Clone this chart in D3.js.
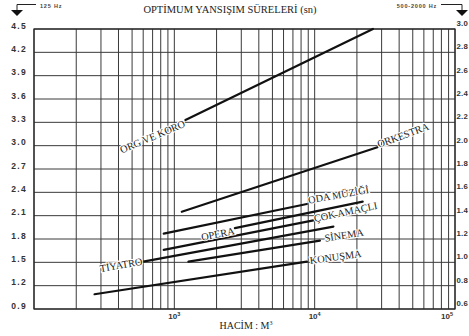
<!DOCTYPE html>
<html>
<head>
<meta charset="utf-8">
<script src="https://cdn.jsdelivr.net/npm/d3@7"></script>
<style>
  body { margin: 0; background: #fff; }
  svg { display: block; }
</style>
</head>
<body>
<svg id="chart" width="469" height="336"></svg>
<script>
// Optimum reverberation time by room type and volume
const roomTypes  = ["ORG VE KORO", "ORKESTRA", "ODA MÜZİĞİ", "OPERA", "ÇOK AMAÇLI", "TİYATRO", "SİNEMA", "KONUŞMA"];
const volumeFrom = [1200, 1130, 840, 2700, 840, 600, 1260, 270];      // m³
const volumeTo   = [26000, 28000, 8800, 22000, 9800, 13600, 10900, 8800];
const timeFrom   = [3.33, 2.15, 1.87, 1.94, 1.66, 1.51, 1.51, 1.09];  // s at 125 Hz
const timeTo     = [4.50, 2.98, 2.25, 2.28, 2.04, 1.96, 1.78, 1.51];

const timeTicks125 = [0.9, 1.2, 1.5, 1.8, 2.1, 2.4, 2.7, 3.0, 3.3, 3.6, 3.9, 4.2, 4.5];
const timeTicksMid = ["3.0", "2.8", "2.6", "2.4", "2.2", "2.0", "1.8", "1.6", "1.4", "1.2", "1.0", "0.8", "0.6"];
const volumePowers = [3, 4, 5];

// Label placement for each curve name: which end, rotation, offsets
const labelStyle = [
  { end: "from", anchor: "end",   angle: 23, dx: -2, dy: 6 },
  { end: "to",   anchor: "start", angle: 20, dx: 1,  dy: 1 },
  { end: "to",   anchor: "start", angle: 10, dx: 2,  dy: 0 },
  { end: "from", anchor: "end",   angle: 11, dx: -1, dy: 6 },
  { end: "to",   anchor: "start", angle: 12, dx: 1,  dy: 2 },
  { end: "from", anchor: "end",   angle: 10, dx: -1, dy: 3 },
  { end: "to",   anchor: "start", angle: 9,  dx: 5,  dy: 2 },
  { end: "to",   anchor: "start", angle: 8,  dx: 3,  dy: 3 }
];

const svg = d3.select("#chart");
const plot = { left: 34, right: 455, top: 29, bottom: 309 };

const x = d3.scaleLog().domain([100, 100000]).range([plot.left, plot.right]);
const y = d3.scaleLinear().domain([0.9, 4.5]).range([plot.bottom, plot.top]);

const serif = "'Liberation Serif', 'DejaVu Serif', serif";
const sans = "'Liberation Sans', Arial, sans-serif";
const gridColor = "#3a3a3a";

// Grid
const grid = svg.append("g");
grid.selectAll("line.v").data(x.ticks()).join("line")
  .attr("x1", d => x(d)).attr("x2", d => x(d))
  .attr("y1", plot.top).attr("y2", plot.bottom)
  .attr("stroke", gridColor).attr("stroke-width", 1);
grid.selectAll("line.h").data(timeTicks125).join("line")
  .attr("x1", plot.left).attr("x2", plot.right)
  .attr("y1", d => y(d)).attr("y2", d => y(d))
  .attr("stroke", gridColor).attr("stroke-width", 1);
grid.append("rect")
  .attr("x", plot.left).attr("y", plot.top)
  .attr("width", plot.right - plot.left).attr("height", plot.bottom - plot.top)
  .attr("fill", "none").attr("stroke", "#222").attr("stroke-width", 1.2);

// Left axis (125 Hz)
svg.append("g").selectAll("text").data(timeTicks125).join("text")
  .attr("x", 27).attr("y", d => y(d) - 2.5)
  .attr("text-anchor", "end").attr("dominant-baseline", "middle")
  .attr("font-family", sans).attr("font-weight", "bold").attr("font-size", 8.5)
  .attr("letter-spacing", 1.3).attr("fill", "#333")
  .text(d => d.toFixed(1));

// Right axis (500-2000 Hz), one label per grid row
svg.append("g").selectAll("text").data(timeTicksMid).join("text")
  .attr("x", 456.5).attr("y", (d, i) => y(timeTicks125[timeTicks125.length - 1 - i]) - 5)
  .attr("dominant-baseline", "middle")
  .attr("font-family", sans).attr("font-weight", "bold").attr("font-size", 7.8)
  .attr("letter-spacing", 0.2).attr("fill", "#333")
  .text(d => d);

// Bottom axis labels
const xl = svg.append("g").selectAll("text").data(volumePowers).join("text")
  .attr("x", d => x(Math.pow(10, d)) + (d === 5 ? -2 : 0))
  .attr("y", 319)
  .attr("text-anchor", d => d === 5 ? "end" : "middle")
  .attr("font-family", sans).attr("font-weight", "bold").attr("font-size", 8)
  .attr("fill", "#333");
xl.append("tspan").text("10");
xl.append("tspan").attr("dy", -3.5).attr("font-size", 5.5).text(d => d);

svg.append("text")
  .attr("x", 246).attr("y", 329).attr("text-anchor", "middle")
  .attr("font-family", serif).attr("font-size", 10).attr("fill", "#222")
  .text("HACİM : M")
  .append("tspan").attr("dy", -4).attr("font-size", 6).text("3");

// Title
svg.append("text")
  .attr("x", 230).attr("y", 13).attr("text-anchor", "middle")
  .attr("font-family", serif).attr("font-size", 10.5).attr("fill", "#222")
  .text("OPTİMUM YANSIŞIM SÜRELERİ (sn)");

// Frequency markers with arrows
function marker(textX, anchor, lineX1, lineX2, arrowX, label) {
  const g = svg.append("g");
  g.append("text").attr("x", textX).attr("y", 7.5).attr("text-anchor", anchor)
    .attr("font-family", sans).attr("font-weight", "bold").attr("font-size", 5.5)
    .attr("letter-spacing", 0.8).attr("fill", "#444").text(label);
  g.append("path")
    .attr("d", `M${lineX1},4.5 H${lineX2} V10`)
    .attr("fill", "none").attr("stroke", "#222").attr("stroke-width", 1);
  g.append("path")
    .attr("d", `M${arrowX - 6},10 H${arrowX + 6} L${arrowX},16 Z`)
    .attr("fill", "#111");
}
marker(40, "start", 36, 17, 17, "125 Hz");
marker(437, "end", 441, 462, 462, "500-2000 Hz");

// Curves
const curves = roomTypes.map((name, i) => ({
  name,
  p0: [x(volumeFrom[i]), y(timeFrom[i])],
  p1: [x(volumeTo[i]), y(timeTo[i])],
  style: labelStyle[i]
}));

svg.append("g").selectAll("line").data(curves).join("line")
  .attr("x1", d => d.p0[0]).attr("y1", d => d.p0[1])
  .attr("x2", d => d.p1[0]).attr("y2", d => d.p1[1])
  .attr("stroke", "#111").attr("stroke-width", 2.2).attr("stroke-linecap", "round");

svg.append("g").selectAll("text").data(curves).join("text")
  .attr("transform", d => {
    const p = d.style.end === "from" ? d.p0 : d.p1;
    return `translate(${p[0]},${p[1]}) rotate(${-d.style.angle})`;
  })
  .attr("x", d => d.style.dx).attr("y", d => d.style.dy)
  .attr("text-anchor", d => d.style.anchor)
  .attr("font-family", serif).attr("font-size", 10.3).attr("fill", "#1a1a1a")
  .attr("paint-order", "stroke").attr("stroke", "#fff").attr("stroke-width", 2)
  .text(d => d.name);
</script>
</body>
</html>
